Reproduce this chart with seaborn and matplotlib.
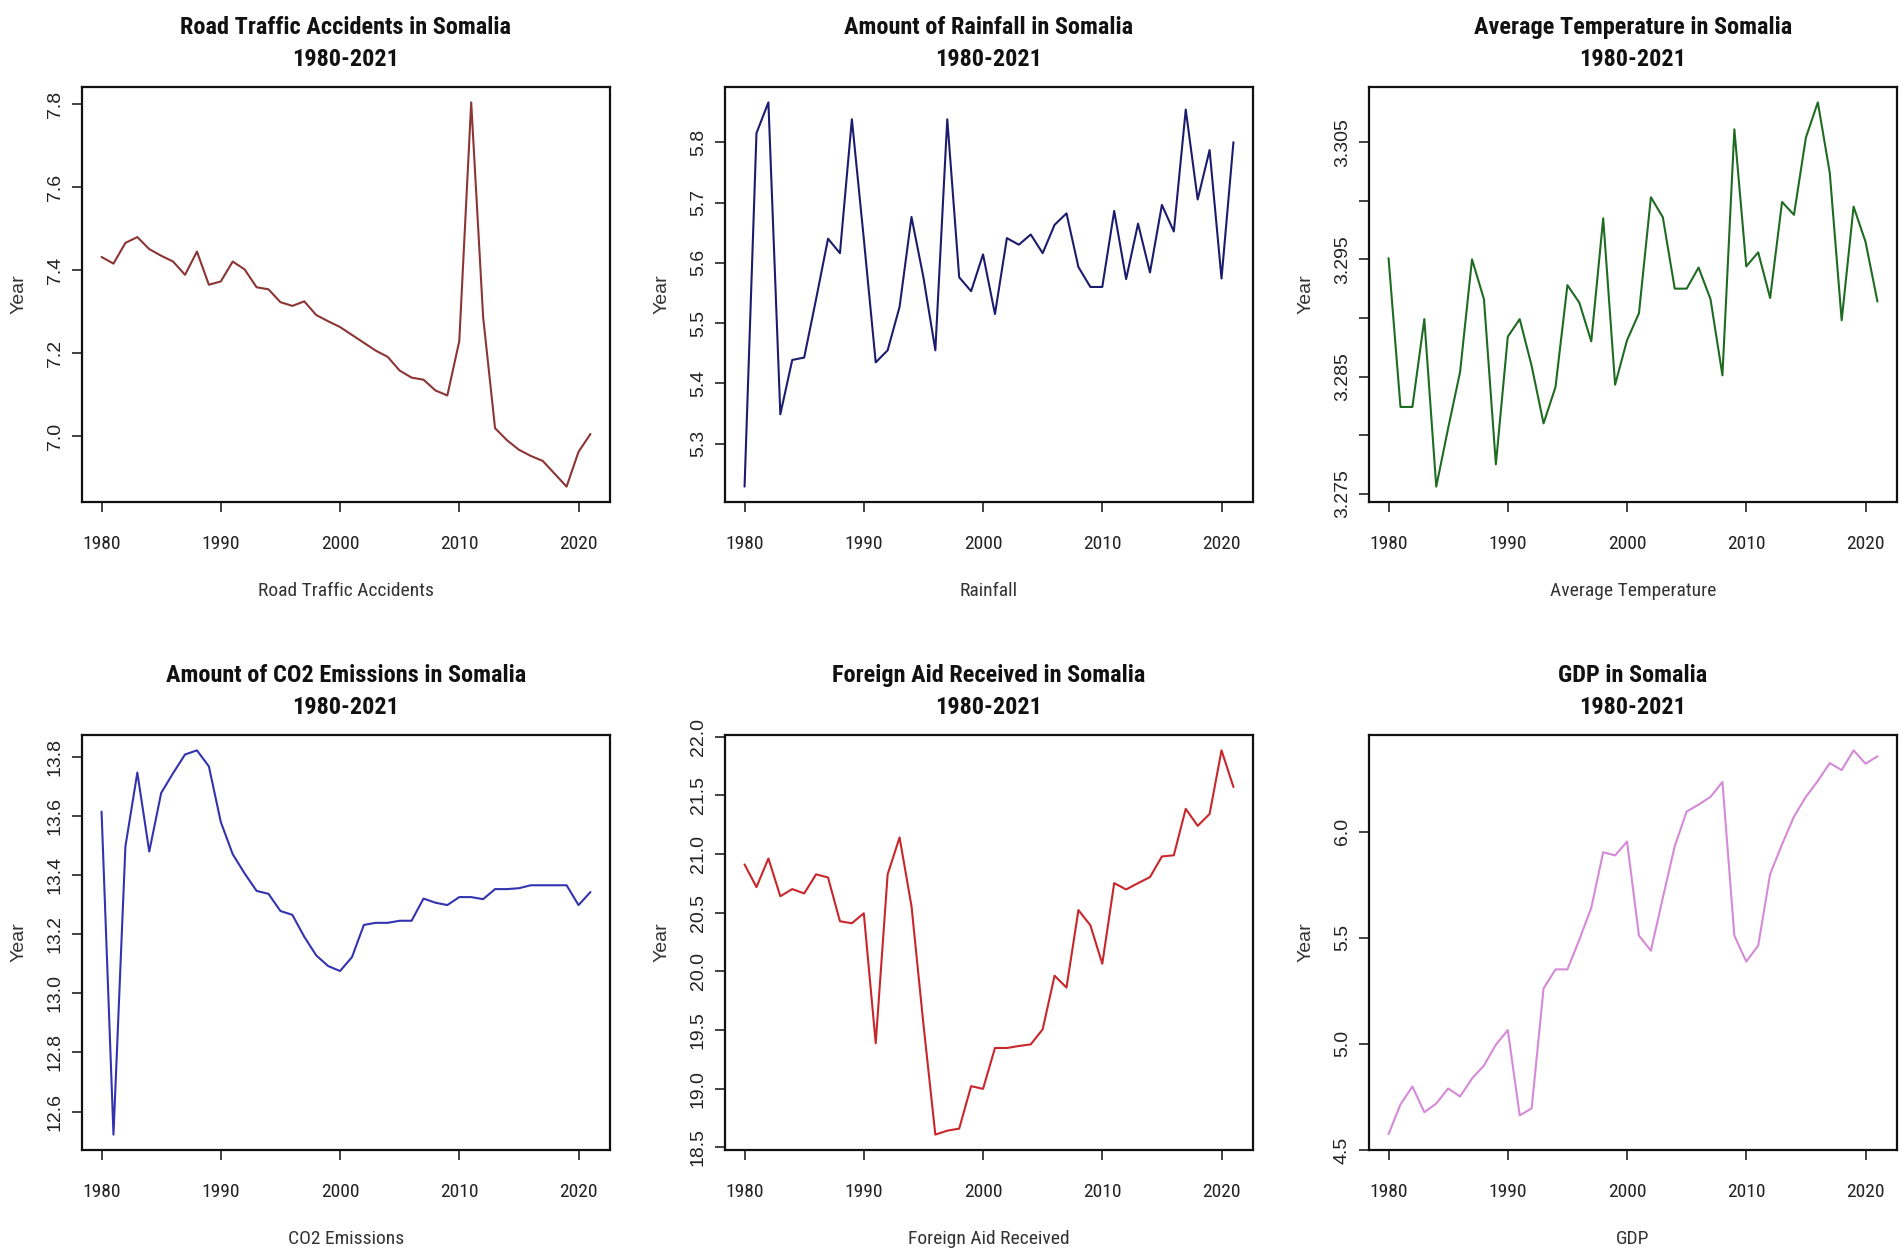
import numpy as np
import pandas as pd
import seaborn as sns
import matplotlib.pyplot as plt
from matplotlib import font_manager

years = list(range(1980, 2022))

road_accidents = [7.432, 7.416, 7.466, 7.480, 7.451, 7.435, 7.421, 7.389, 7.445, 7.365,
                  7.373, 7.421, 7.402, 7.359, 7.354, 7.323, 7.314, 7.325, 7.292, 7.277,
                  7.263, 7.244, 7.225, 7.206, 7.191, 7.158, 7.141, 7.136, 7.110, 7.098,
                  7.229, 7.805, 7.287, 7.019, 6.990, 6.967, 6.952, 6.940, 6.909, 6.878,
                  6.962, 7.005]

rainfall = [5.229, 5.815, 5.866, 5.349, 5.439, 5.443, 5.540, 5.640, 5.616, 5.838,
            5.640, 5.435, 5.455, 5.527, 5.676, 5.576, 5.455, 5.838, 5.576, 5.553,
            5.614, 5.515, 5.641, 5.630, 5.647, 5.616, 5.663, 5.682, 5.593, 5.560,
            5.560, 5.686, 5.573, 5.665, 5.584, 5.696, 5.652, 5.854, 5.705, 5.787,
            5.574, 5.800]

temperature = [3.2951, 3.2824, 3.2824, 3.2899, 3.2756, 3.2806, 3.2854, 3.2950, 3.2916, 3.2775,
               3.2884, 3.2899, 3.2859, 3.2810, 3.2841, 3.2928, 3.2913, 3.2880, 3.2985, 3.2843,
               3.2881, 3.2904, 3.3003, 3.2986, 3.2925, 3.2925, 3.2943, 3.2916, 3.2851, 3.3061,
               3.2944, 3.2956, 3.2917, 3.2999, 3.2988, 3.3054, 3.3084, 3.3024, 3.2898, 3.2995,
               3.2965, 3.2914]

co2 = [13.614, 12.522, 13.496, 13.746, 13.479, 13.677, 13.744, 13.807, 13.821, 13.767,
       13.579, 13.470, 13.405, 13.346, 13.336, 13.278, 13.265, 13.191, 13.128, 13.092,
       13.075, 13.122, 13.231, 13.238, 13.238, 13.245, 13.245, 13.320, 13.306, 13.298,
       13.325, 13.325, 13.318, 13.352, 13.352, 13.355, 13.365, 13.365, 13.365, 13.365,
       13.298, 13.342]

foreign_aid = [20.910, 20.717, 20.961, 20.639, 20.700, 20.663, 20.826, 20.799, 20.426, 20.409,
               20.494, 19.387, 20.826, 21.140, 20.555, 19.550, 18.608, 18.642, 18.659, 19.021,
               18.998, 19.346, 19.346, 19.363, 19.377, 19.505, 19.962, 19.861, 20.521, 20.392,
               20.064, 20.751, 20.697, 20.751, 20.802, 20.978, 20.988, 21.384, 21.239, 21.340,
               21.882, 21.570]

gdp = [4.575, 4.715, 4.799, 4.678, 4.719, 4.790, 4.752, 4.837, 4.898, 4.996,
       5.065, 4.663, 4.696, 5.261, 5.351, 5.351, 5.491, 5.641, 5.903, 5.888,
       5.953, 5.510, 5.439, 5.688, 5.931, 6.095, 6.127, 6.164, 6.234, 5.510,
       5.388, 5.463, 5.800, 5.940, 6.071, 6.164, 6.239, 6.323, 6.290, 6.383,
       6.320, 6.355]

titles = ['Road Traffic Accidents in Somalia\n1980-2021',
          'Amount of Rainfall in Somalia\n1980-2021',
          'Average Temperature in Somalia\n1980-2021',
          'Amount of CO2 Emissions in Somalia\n1980-2021',
          'Foreign Aid Received in Somalia\n1980-2021',
          'GDP in Somalia\n1980-2021']
xlabels = ['Road Traffic Accidents', 'Rainfall', 'Average Temperature',
           'CO2 Emissions', 'Foreign Aid Received', 'GDP']
series = [road_accidents, rainfall, temperature, co2, foreign_aid, gdp]
colors = ['#8b3535', '#1c1c6e', '#1f6b22', '#3333b0', '#c8262b', '#d58ad8']
yticks = [[7.0, 7.2, 7.4, 7.6, 7.8],
          [5.3, 5.4, 5.5, 5.6, 5.7, 5.8],
          [3.275, 3.280, 3.285, 3.290, 3.295, 3.300, 3.305],
          [12.6, 12.8, 13.0, 13.2, 13.4, 13.6, 13.8],
          [18.5, 19.0, 19.5, 20.0, 20.5, 21.0, 21.5, 22.0],
          [4.5, 5.0, 5.5, 6.0]]
ytick_labels = [['7.0', '7.2', '7.4', '7.6', '7.8'],
                ['5.3', '5.4', '5.5', '5.6', '5.7', '5.8'],
                ['3.275', '', '3.285', '', '3.295', '', '3.305'],
                ['12.6', '12.8', '13.0', '13.2', '13.4', '13.6', '13.8'],
                ['18.5', '19.0', '19.5', '20.0', '20.5', '21.0', '21.5', '22.0'],
                ['4.5', '5.0', '5.5', '6.0']]

sns.set_style('ticks')

# use a condensed face for the horizontal text if one is installed
installed = {f.name for f in font_manager.fontManager.ttflist}
narrow_name = 'Roboto'
for cand in ['Liberation Sans Narrow', 'Roboto Condensed', 'Open Sans Condensed',
             'Noto Sans Condensed', 'DejaVu Sans Condensed']:
    if cand in installed:
        narrow_name = cand
        break
narrow = [narrow_name, 'Liberation Sans', 'DejaVu Sans']
regular = ['Liberation Sans', 'DejaVu Sans']
plt.rcParams['font.family'] = regular

W, H = 1902, 1260
fig = plt.figure(figsize=(W / 100, H / 100), dpi=100)
lefts = [82, 725, 1369]
tops = [87, 735]
aw, ah = 528, 415

for i in range(6):
    r, c = divmod(i, 3)
    ax = fig.add_axes([lefts[c] / W, 1 - (tops[r] + ah) / H, aw / W, ah / H])
    df = pd.DataFrame({'Year': years, 'value': series[i]})
    sns.lineplot(data=df, x='Year', y='value', ax=ax, color=colors[i], linewidth=1.5)
    ax.margins(x=0.04, y=0.04)
    ax.set_xticks([1980, 1990, 2000, 2010, 2020])
    ax.set_xticklabels(['1980', '1990', '2000', '2010', '2020'], family=narrow, fontsize=14)
    ax.set_yticks(yticks[i])
    ax.set_yticklabels(ytick_labels[i], family=regular, fontsize=14, rotation=90, va='center')
    ax.tick_params(axis='both', direction='out', length=7, width=1.2, colors='#222222')
    ax.tick_params(axis='x', pad=17)
    ax.tick_params(axis='y', pad=6)
    for s in ax.spines.values():
        s.set_visible(True)
        s.set_linewidth(1.6)
        s.set_color('#111111')
    ax.set_title(titles[i], family=narrow, fontweight='bold', fontsize=17.5,
                 linespacing=1.5, pad=15, color='#111111')
    ax.set_xlabel(xlabels[i], family=narrow, fontsize=14, labelpad=21, color='#333333')
    ax.set_ylabel('Year', family=regular, fontsize=14, labelpad=14, color='#333333')

fig.savefig('out.png', dpi=100, facecolor='white')
